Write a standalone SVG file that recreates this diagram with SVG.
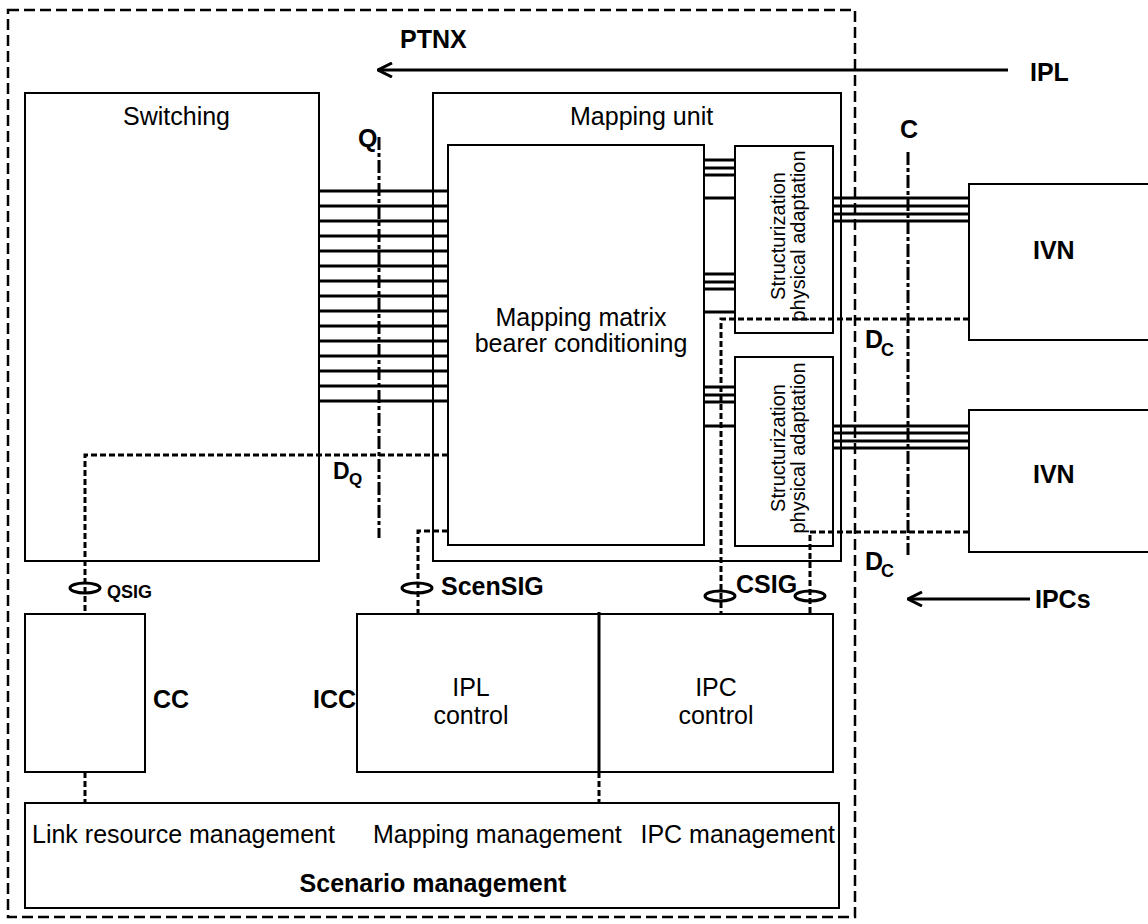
<svg xmlns="http://www.w3.org/2000/svg" width="1148" height="924" viewBox="0 0 1148 924">
<style>
  .box { fill: #fff; stroke: #000; stroke-width: 2; }
  .t { font-family: "Liberation Sans", Arial, sans-serif; font-size: 25px; fill: #000; }
  .b { font-weight: bold; }
  .rot { font-size: 20px; }
  .bundle { stroke: #000; stroke-width: 3; fill: none; }
  .sig { stroke: #000; stroke-width: 3; stroke-dasharray: 6 3; fill: none; }
  .ref { stroke: #000; stroke-width: 3; stroke-dasharray: 13 3 4 3; fill: none; }
  .ell { fill: none; stroke: #000; stroke-width: 3; }
  .arr { stroke: #000; stroke-width: 3; fill: none; marker-start: url(#head); }
</style>
<defs>
  <marker id="head" viewBox="0 0 16 16" refX="1" refY="8" markerWidth="16" markerHeight="16" markerUnits="userSpaceOnUse" orient="auto">
    <path d="M15 1 L1 8 L15 15" fill="none" stroke="#000" stroke-width="3"/>
  </marker>
</defs>
<rect width="1148" height="924" fill="#fff"/>

<g id="ptnx">
  <rect x="8" y="10" width="847" height="907" fill="none" stroke="#000" stroke-width="2.5" stroke-dasharray="11 5"/>
  <text class="t b" x="400" y="48">PTNX</text>
</g>

<g id="switching">
  <rect class="box" x="25" y="93" width="294" height="468"/>
  <text class="t" x="123" y="125">Switching</text>
</g>

<g id="mapping-unit">
  <rect class="box" x="433" y="93" width="408" height="468"/>
  <text class="t" x="570" y="125">Mapping unit</text>
</g>

<g id="mapping-matrix">
  <rect class="box" x="448" y="145" width="256" height="400"/>
  <text class="t" x="581" y="326" text-anchor="middle">Mapping matrix</text>
  <text class="t" x="581" y="352" text-anchor="middle">bearer conditioning</text>
</g>

<g id="struct1">
  <rect class="box" x="735" y="146" width="98" height="187"/>
  <text class="t rot" transform="translate(785 236) rotate(-90)" text-anchor="middle">Structurization</text>
  <text class="t rot" transform="translate(805 236) rotate(-90)" text-anchor="middle">physical adaptation</text>
</g>

<g id="struct2">
  <rect class="box" x="735" y="357" width="98" height="189"/>
  <text class="t rot" transform="translate(785 448) rotate(-90)" text-anchor="middle">Structurization</text>
  <text class="t rot" transform="translate(805 448) rotate(-90)" text-anchor="middle">physical adaptation</text>
</g>

<g id="ivn1">
  <rect class="box" x="969" y="184" width="200" height="156"/>
  <text class="t b" x="1033" y="259">IVN</text>
</g>

<g id="ivn2">
  <rect class="box" x="969" y="410" width="200" height="142"/>
  <text class="t b" x="1033" y="483">IVN</text>
</g>

<g id="cc">
  <rect class="box" x="25" y="614" width="120" height="158"/>
  <text class="t b" x="153" y="708">CC</text>
</g>

<g id="icc">
  <rect class="box" x="357" y="614" width="476" height="158"/>
  <line x1="599" y1="612" x2="599" y2="772" stroke="#000" stroke-width="3"/>
  <text class="t b" x="313" y="708">ICC</text>
  <text class="t" x="471" y="696" text-anchor="middle">IPL</text>
  <text class="t" x="471" y="724" text-anchor="middle">control</text>
  <text class="t" x="716" y="696" text-anchor="middle">IPC</text>
  <text class="t" x="716" y="724" text-anchor="middle">control</text>
</g>

<g id="scenario">
  <rect class="box" x="25" y="803" width="814" height="105"/>
  <text class="t" x="32" y="843">Link resource management</text>
  <text class="t" x="373" y="843">Mapping management</text>
  <text class="t" x="835" y="843" text-anchor="end">IPC management</text>
  <text class="t b" x="433" y="892" text-anchor="middle">Scenario management</text>
</g>

<g id="connectors">
  <path class="bundle" d="M319 191H448M319 206H448M319 221H448M319 236H448M319 251H448M319 266H448M319 281H448M319 296H448M319 311H448M319 326H448M319 341H448M319 356H448M319 371H448M319 386H448M319 401H448"/>
  <path class="bundle" d="M704 160H735M704 168H735M704 175H735M704 198H735M704 274H735M704 282H735M704 289H735M704 312H735"/>
  <path class="bundle" d="M704 387H735M704 395H735M704 402H735M704 426H735"/>
  <path class="bundle" d="M833 198H969M833 206H969M833 214H969M833 221H969"/>
  <path class="bundle" d="M833 426H969M833 433H969M833 441H969M833 448H969"/>

  <line class="ref" x1="379" y1="137" x2="379" y2="538"/>
  <text class="t b" x="358" y="147">Q</text>
  <line class="ref" x1="908" y1="152" x2="908" y2="555"/>
  <text class="t b" x="900" y="138">C</text>

  <path class="sig" d="M448 455H85V614"/>
  <path class="sig" d="M448 531H418V614"/>
  <path class="sig" d="M969 319H721V614"/>
  <path class="sig" d="M969 532H810V614"/>
  <path class="sig" d="M85 772V803"/>
  <path class="sig" d="M599 772V803"/>

  <ellipse class="ell" cx="85" cy="588" rx="15" ry="5"/>
  <ellipse class="ell" cx="417" cy="588" rx="15" ry="5"/>
  <ellipse class="ell" cx="720" cy="596" rx="15" ry="5"/>
  <ellipse class="ell" cx="810" cy="596" rx="15" ry="5"/>

  <text class="t b" x="107" y="598" style="font-size:18px">QSIG</text>
  <text class="t b" x="441" y="595">ScenSIG</text>
  <text class="t b" x="736" y="593">CSIG</text>

  <text class="t b" x="333" y="479" style="font-size:23px">D<tspan x="349" y="485" style="font-size:17px">Q</tspan></text>
  <text class="t b" x="865" y="348">D<tspan x="881" y="356" style="font-size:18px">C</tspan></text>
  <text class="t b" x="865" y="570">D<tspan x="881" y="577" style="font-size:18px">C</tspan></text>

  <line class="arr" x1="378" y1="70" x2="1008" y2="70"/>
  <text class="t b" x="1030" y="81">IPL</text>
  <line class="arr" x1="908" y1="599" x2="1030" y2="599"/>
  <text class="t b" x="1035" y="608">IPCs</text>
</g>
</svg>
